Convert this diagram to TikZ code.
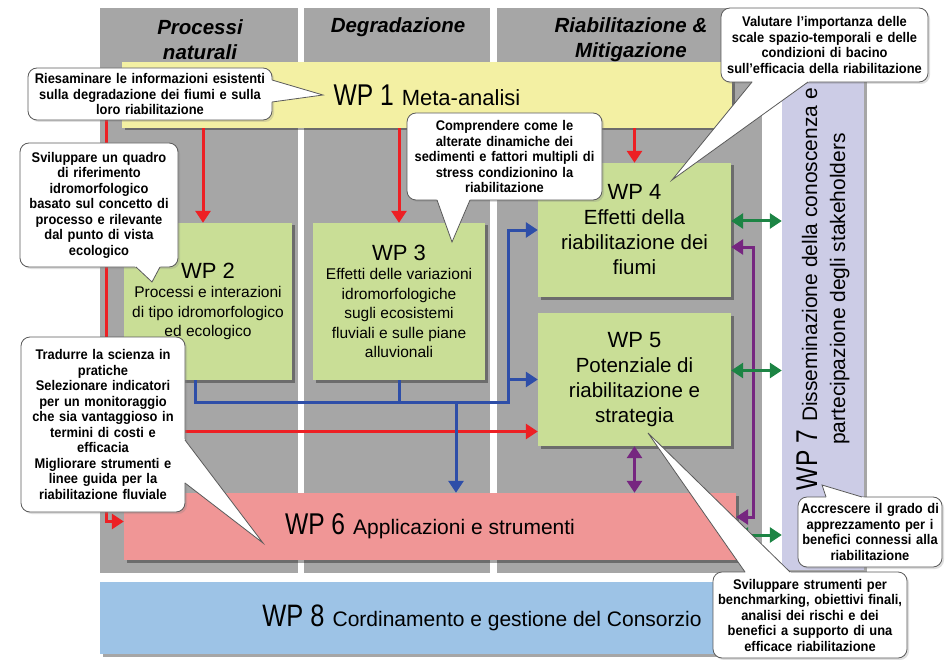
\documentclass[tikz,border=0pt]{standalone}
\usepackage{fontspec}
\setmainfont{Liberation Sans}
\newfontfamily\narrowfont[FakeStretch=0.82]{Liberation Sans}
\newfontfamily\callfont[FakeStretch=0.92]{Liberation Sans}
\usepackage{tikz}
\usetikzlibrary{positioning, shapes, calc, arrows.meta, shadows}
\definecolor{bggray}{RGB}{166,166,166}
\definecolor{wpyellow}{RGB}{243,240,163}
\definecolor{wpgreen}{RGB}{201,222,150}
\definecolor{wppink}{RGB}{240,150,150}
\definecolor{wpblue}{RGB}{157,195,230}
\definecolor{wplilac}{RGB}{204,204,230}
\definecolor{arrred}{RGB}{237,32,36}
\definecolor{arrblue}{RGB}{46,78,168}
\definecolor{arrpurple}{RGB}{118,38,128}
\definecolor{arrgreen}{RGB}{28,132,68}
\definecolor{notegray}{RGB}{90,90,90}

\newcommand{\wpnum}[2][30]{{\narrowfont\fontsize{#1}{#1}\selectfont #2}\hspace{8pt}}
\newcommand{\notewedge}[3]{%
  \fill[white] ($(#1)!-3pt!(#3)$) -- (#3) -- ($(#2)!-3pt!(#3)$) -- cycle;
  \draw[notegray, line width=0.8pt] (#1) -- (#3) -- (#2);}

\begin{document}
\begin{tikzpicture}[x=1pt, y=-1pt,
    wp/.style={draw=none, align=center, inner sep=0pt,
      drop shadow={shadow xshift=2.5pt, shadow yshift=-2.5pt, opacity=0.35, fill=black}},
    head/.style={font=\fontsize{20.5}{25}\selectfont\bfseries\itshape, align=center},
    sub/.style={font=\fontsize{15.5}{19.5}\selectfont},
    big/.style={font=\fontsize{20.5}{25}\selectfont},
    note/.style={draw=notegray, line width=0.8pt, fill=white, rounded corners=9pt,
      align=center, inner xsep=2pt, inner ysep=2pt,
      font=\callfont\bfseries\fontsize{14}{15.5}\selectfont,
      drop shadow={shadow xshift=2pt, shadow yshift=-2pt, opacity=0.25}},
    link/.style={line width=3pt, -{Triangle[width=15pt,length=12pt]}},
    both/.style={line width=3pt, {Triangle[width=15pt,length=12pt]}-{Triangle[width=15pt,length=12pt]}},
  ]
  \useasboundingbox (0,0) rectangle (949,660);

  % columns
  \fill[bggray] (100,8) rectangle (298,573);
  \fill[bggray] (304,8) rectangle (490,573);
  \fill[bggray] (497,8) rectangle (762,573);

  \node[head] (hnat) at (200,40) {Processi\\naturali};
  \node[head] (hdeg) at (398,27) {Degradazione};
  \node[head] (hria) at (631,40) {Riabilitazione \&\\Mitigazione};

  % work packages
  \node[wp, fill=wpyellow, minimum width=610, minimum height=66] (wp1) at (427,95)
    {\wpnum{WP 1}{\fontsize{22}{26}\selectfont Meta-analisi}};
  \node[wp, sub, fill=wpgreen, minimum width=168, minimum height=157] (wp2) at (208,301.5)
    {{\fontsize{22}{24}\selectfont WP 2}\\Processi e interazioni\\di tipo idromorfologico\\ed ecologico};
  \node[wp, sub, fill=wpgreen, minimum width=172, minimum height=157] (wp3) at (399,301.5)
    {{\fontsize{22}{24}\selectfont WP 3}\\Effetti delle variazioni\\idromorfologiche\\sugli ecosistemi\\fluviali e sulle piane\\alluvionali};
  \node[wp, big, fill=wpgreen, minimum width=193, minimum height=134] (wp4) at (634.5,230)
    {{\fontsize{22}{25}\selectfont WP 4}\\Effetti della\\riabilitazione dei\\fiumi};
  \node[wp, big, fill=wpgreen, minimum width=193, minimum height=133] (wp5) at (634.5,379.5)
    {{\fontsize{22}{25}\selectfont WP 5}\\Potenziale di\\riabilitazione e\\strategia};
  \node[wp, fill=wppink, minimum width=612, minimum height=67] (wp6) at (430,526.5)
    {\wpnum{WP 6}{\fontsize{21}{24}\selectfont Applicazioni e strumenti}};
  \node[wp, fill=wplilac, minimum width=82, minimum height=562] (wp7) at (823,289) {};
  \node[rotate=90, align=center, font=\fontsize{21}{28}\selectfont] (wp7txt) at (wp7)
    {\wpnum{WP 7}Disseminazione della conoscenza e\\partecipazione degli stakeholders};
  \node[wp, fill=wpblue, minimum width=764, minimum height=72] (wp8) at (482,618)
    {\wpnum[31]{WP 8}{\fontsize{21}{24}\selectfont Cordinamento e gestione del Consorzio}};

  % red links
  \coordinate (rbus) at (106,95);
  \coordinate (r2) at ([xshift=-5pt]wp2.north);
  \coordinate (r5) at ([yshift=-52pt]wp5.west);
  \coordinate (r6) at ([yshift=5pt]wp6.west);
  \draw[link, arrred] (r2 |- wp1.south) -- (r2);
  \draw[link, arrred] (wp3.north |- wp1.south) -- (wp3.north);
  \draw[link, arrred] (wp4.north |- wp1.south) -- (wp4.north);
  \draw[link, arrred] (wp1.west) -| (r6 -| rbus) -- (r6);
  \draw[link, arrred] (r5 -| rbus) -- (r5);

  % blue links
  \coordinate (bj) at (508,402);
  \coordinate (bd) at (456,402);
  \coordinate (b2) at ([xshift=-13pt]wp2.south);
  \draw[link, arrblue] (b2) |- (bj) |- (wp4.west);
  \draw[link, arrblue] (bj |- wp5.west) -- (wp5.west);
  \draw[line width=3pt, arrblue] (wp3.south) -- (wp3.south |- bj);
  \draw[link, arrblue] (bd) -- (bd |- wp6.north);

  % purple links
  \coordinate (p4) at ([yshift=-17pt]wp4.east);
  \coordinate (p6) at ([yshift=9.5pt]wp6.east);
  \draw[both, arrpurple] (wp5.south) -- (wp5.south |- wp6.north);
  \draw[both, arrpurple] (p4) -- ++(22,0) |- (p6);

  % green links
  \coordinate (g4) at ([yshift=9pt]wp4.east);
  \coordinate (g5) at ([yshift=9pt]wp5.east);
  \coordinate (g6) at ([yshift=-8.5pt]wp6.east);
  \draw[both, arrgreen] (g4) -- (g4 -| wp7.west);
  \draw[both, arrgreen] (g5) -- (g5 -| wp7.west);
  \draw[both, arrgreen] (g6) -- (g6 -| wp7.west);

  % callouts
  \node[note, text width=240, minimum height=52] (n1) at (150,94)
    {Riesaminare le informazioni esistenti\\sulla degradazione dei fiumi e sulla\\loro riabilitazione};
  \notewedge{272,80}{272,102}{323,95}
  \node[note, text width=154, minimum height=124] (n2) at (99,205)
    {Sviluppare un quadro\\di riferimento\\idromorfologico\\basato sul concetto di\\processo e rilevante\\dal punto di vista\\ecologico};
  \notewedge{136,267}{160,267}{152,282}
  \node[note, text width=191, minimum height=87] (n3) at (504.5,156.5)
    {Comprendere come le\\alterate dinamiche dei\\sedimenti e fattori multipli di\\stress condizionino la\\riabilitazione};
  \notewedge{437,200}{470,200}{452,242}
  \node[note, text width=203, minimum height=74] (n4) at (824.5,45)
    {Valutare l’importanza delle\\scale spazio-temporali e delle\\condizioni di bacino\\sull’efficacia della riabilitazione};
  \notewedge{752,82}{808,82}{672,180}
  \node[note, text width=160, minimum height=175] (n5) at (103,424.5)
    {Tradurre la scienza in\\pratiche\\Selezionare indicatori\\per un monitoraggio\\che sia vantaggioso in\\termini di costi e\\efficacia\\Migliorare strumenti e\\linee guida per la\\riabilitazione fluviale};
  \notewedge{185,440}{185,483}{263,543}
  \node[note, text width=140, minimum height=70] (n6) at (870,532)
    {Accrescere il grado di\\apprezzamento per i\\benefici connessi alla\\riabilitazione};
  \notewedge{826,497}{862,497}{822,485}
  \node[note, text width=190, minimum height=86] (n7) at (810,615)
    {Sviluppare strumenti per\\benchmarking, obiettivi finali,\\analisi dei rischi e dei\\benefici a supporto di una\\efficace riabilitazione};
  \notewedge{745,572}{790,572}{648,433}
\end{tikzpicture}
\end{document}
